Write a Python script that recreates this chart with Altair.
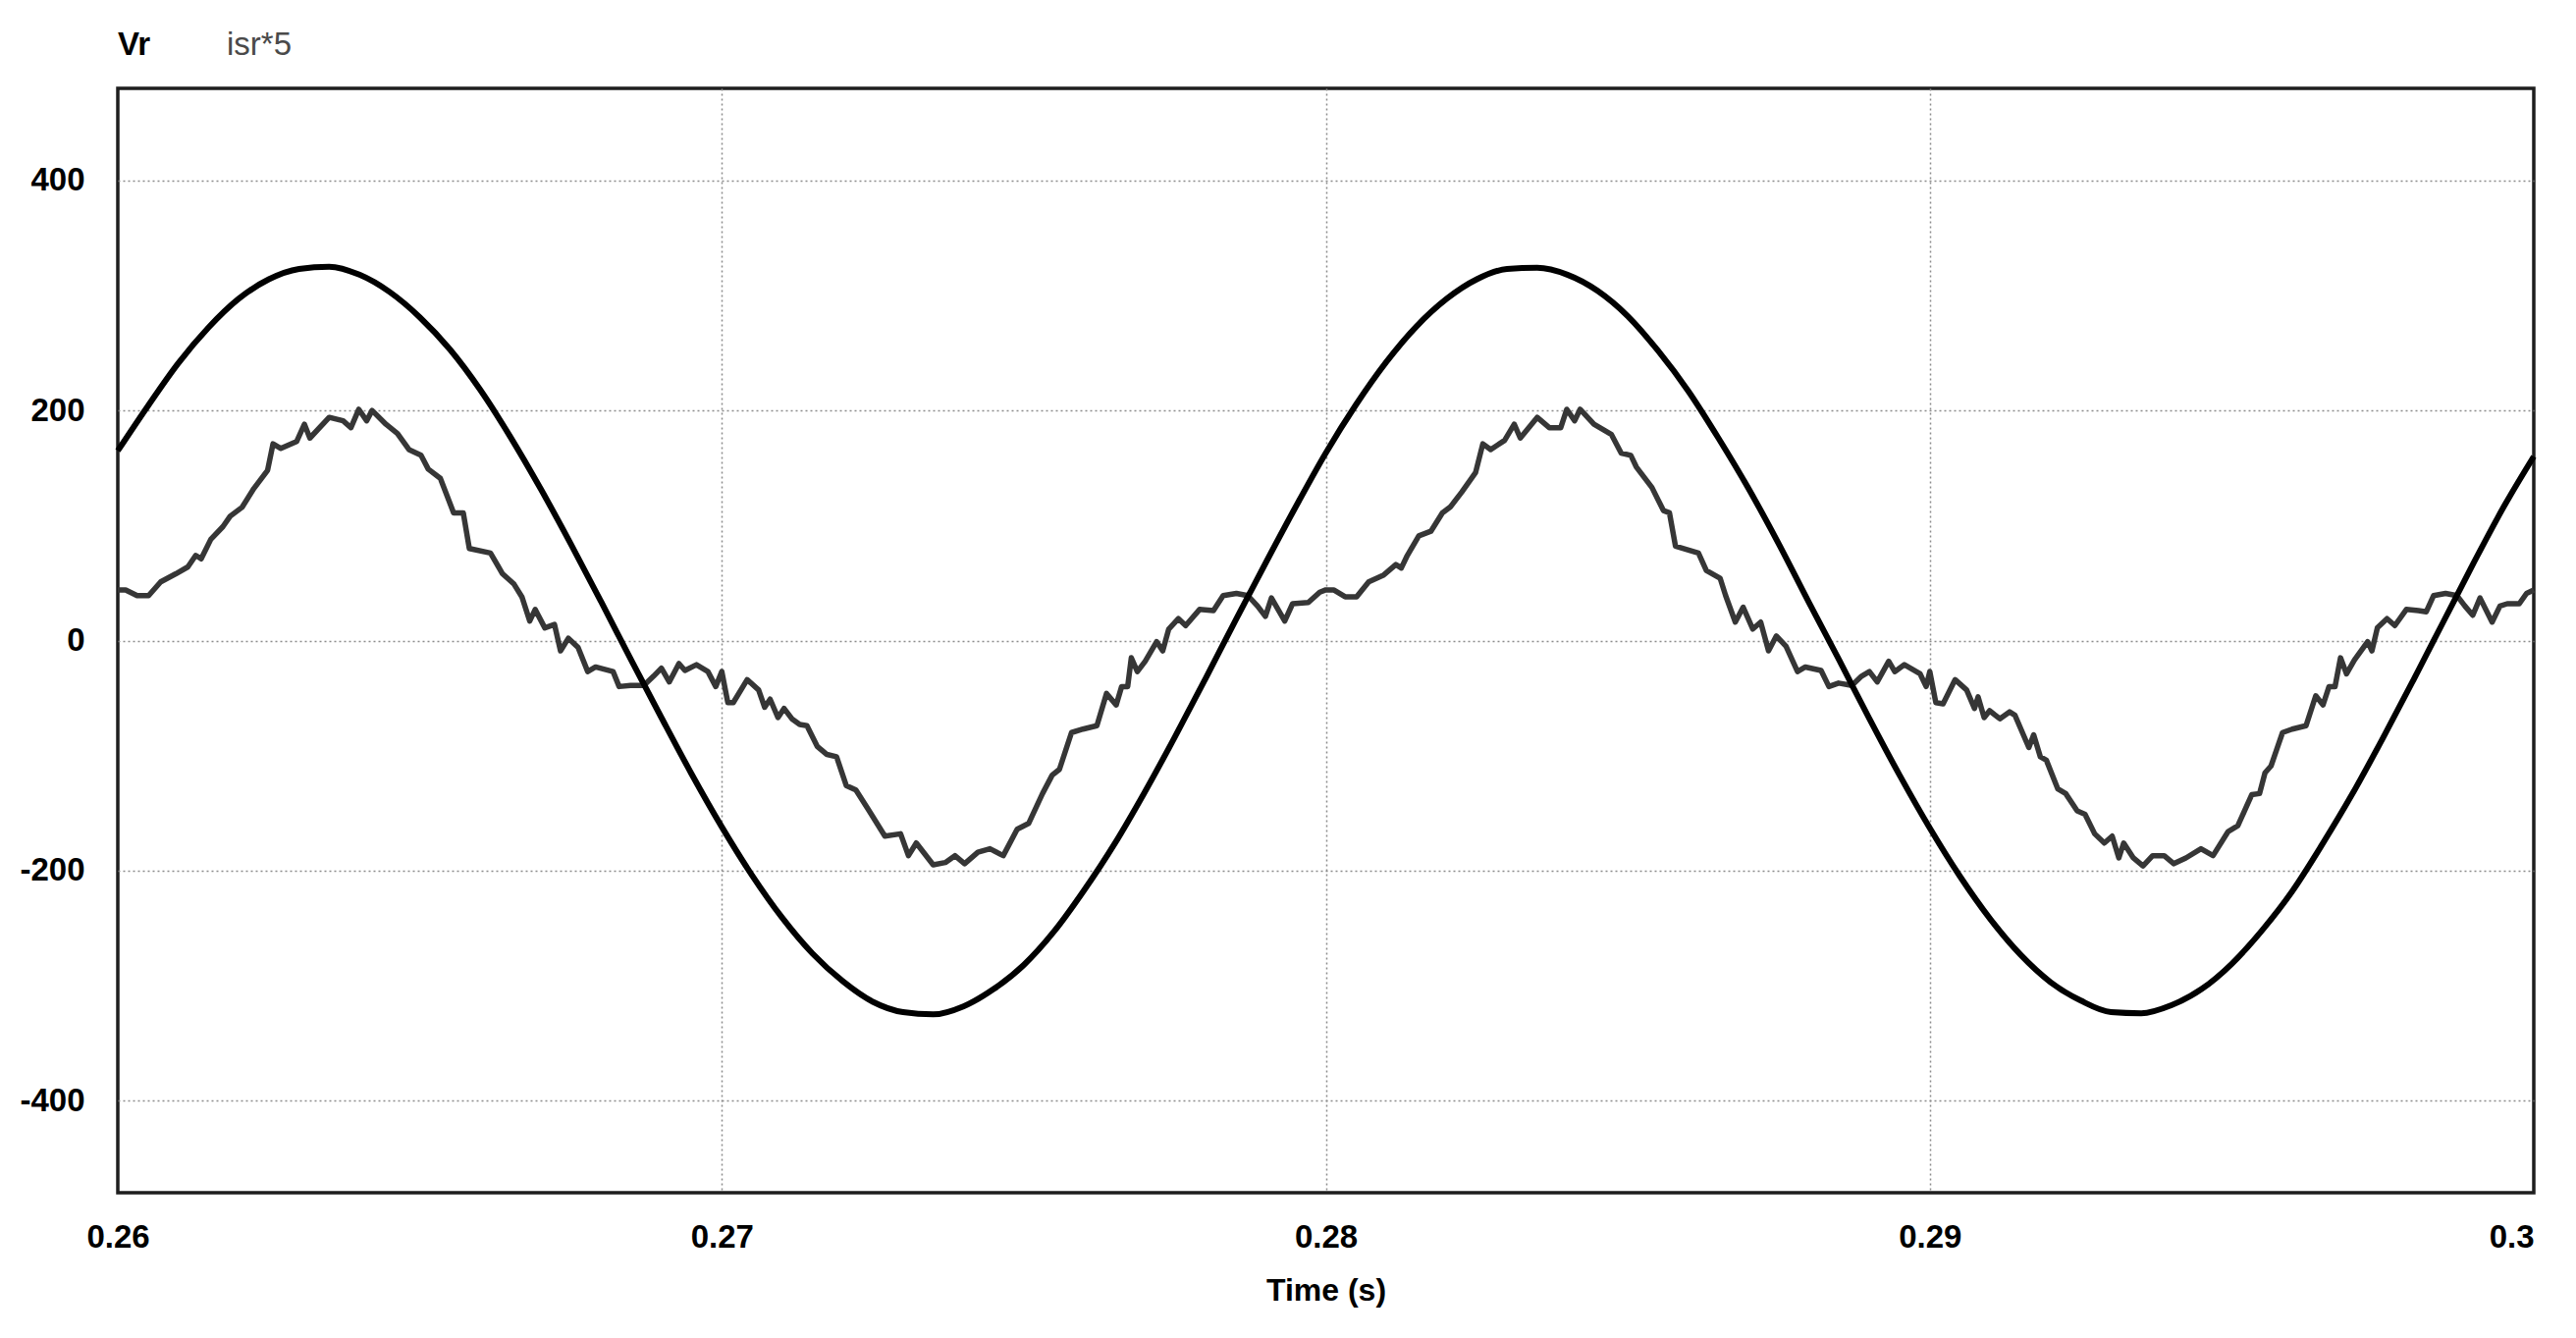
import altair as alt
import pandas as pd

FONT = "Liberation Sans, Arial, sans-serif"

series_names = ["Vr", "isr*5"]
line_colors = ["#000000", "#363636"]
label_colors = ["#000000", "#4a4a4a"]

x_ticks = [0.26, 0.27, 0.28, 0.29, 0.30]
y_ticks = [-400, -200, 0, 200, 400]

vr_time = [0.2600, 0.2605, 0.2610, 0.2615, 0.2620, 0.2625, 0.2630, 0.2635, 0.2640, 0.2645,
           0.2650, 0.2655, 0.2660, 0.2665, 0.2670, 0.2675, 0.2680, 0.2685, 0.2690, 0.2695,
           0.2700, 0.2705, 0.2710, 0.2715, 0.2720, 0.2725, 0.2730, 0.2735, 0.2740, 0.2745,
           0.2750, 0.2755, 0.2760, 0.2765, 0.2770, 0.2775, 0.2780, 0.2785, 0.2790, 0.2795,
           0.2800, 0.2805, 0.2810, 0.2815, 0.2820, 0.2825, 0.2830, 0.2835, 0.2840, 0.2845,
           0.2850, 0.2855, 0.2860, 0.2865, 0.2870, 0.2875, 0.2880, 0.2885, 0.2890, 0.2895,
           0.2900, 0.2905, 0.2910, 0.2915, 0.2920, 0.2925, 0.2930, 0.2935, 0.2940, 0.2945,
           0.2950, 0.2955, 0.2960, 0.2965, 0.2970, 0.2975, 0.2980, 0.2985, 0.2990, 0.2995,
           0.3000]

vr_values = [165, 204, 241, 272, 297, 314, 323, 325, 318, 303, 281, 253, 218, 177, 132, 84, 34, -17, -67, -116,
             -162, -204, -241, -272, -296, -314, -323, -325, -318, -303, -282, -253, -217, -177, -132, -84, -34, 17, 67, 116,
             163, 205, 242, 273, 297, 314, 323, 324, 318, 304, 282, 252, 217, 176, 132, 84, 33, -17, -68, -117,
             -163, -205, -242, -273, -297, -313, -323, -324, -317, -303, -281, -252, -218, -177, -133, -85, -35, 16, 67, 116,
             160]

isr_seg1 = [(0.26000, 44), (0.26013, 44), (0.26032, 39), (0.26051, 39), (0.26071, 51), (0.26096, 58),
            (0.26116, 64), (0.26129, 74), (0.26138, 71), (0.26154, 88), (0.26174, 99), (0.26186, 108),
            (0.26206, 116), (0.26225, 132), (0.26248, 148), (0.26257, 171), (0.26270, 167), (0.26296, 173),
            (0.26309, 188), (0.26318, 176), (0.26350, 194), (0.26373, 191), (0.26386, 185), (0.26399, 201),
            (0.26412, 191), (0.26421, 200), (0.26444, 188), (0.26463, 180), (0.26482, 166), (0.26502, 161),
            (0.26514, 149), (0.26534, 141), (0.26556, 111), (0.26572, 111), (0.26582, 80), (0.26617, 76),
            (0.26637, 58), (0.26656, 49), (0.26669, 38), (0.26682, 17), (0.26691, 27), (0.26707, 11),
            (0.26723, 14), (0.26733, -9), (0.26746, 2), (0.26762, -6), (0.26778, -27), (0.26791, -23),
            (0.26820, -27), (0.26830, -40), (0.26849, -39), (0.26871, -39), (0.26887, -31), (0.26900, -24),
            (0.26913, -36), (0.26929, -20), (0.26939, -26), (0.26958, -21), (0.26977, -27), (0.26990, -40)]

isr_seg2 = [(0.27000, -27), (0.27010, -54), (0.27019, -54), (0.27042, -34), (0.27061, -43), (0.27071, -58),
            (0.27080, -51), (0.27093, -67), (0.27103, -59), (0.27116, -68), (0.27129, -73), (0.27141, -74),
            (0.27158, -92), (0.27174, -99), (0.27190, -101), (0.27206, -126), (0.27222, -130), (0.27244, -148),
            (0.27270, -170), (0.27296, -168), (0.27309, -187), (0.27322, -176), (0.27350, -195), (0.27370, -193),
            (0.27386, -187), (0.27402, -194), (0.27424, -184), (0.27444, -181), (0.27466, -187), (0.27489, -164),
            (0.27508, -159), (0.27531, -133), (0.27547, -117), (0.27559, -112), (0.27579, -80), (0.27598, -77),
            (0.27621, -74), (0.27637, -46), (0.27653, -56), (0.27662, -40), (0.27672, -40), (0.27678, -15),
            (0.27688, -27), (0.27701, -18), (0.27720, -1), (0.27730, -9), (0.27740, 10), (0.27756, 19),
            (0.27768, 13), (0.27791, 27), (0.27814, 26), (0.27830, 39), (0.27852, 41), (0.27871, 39),
            (0.27887, 30), (0.27900, 21), (0.27910, 37), (0.27932, 17), (0.27945, 32), (0.27971, 33),
            (0.27990, 42)]

isr_seg3 = [(0.28000, 44), (0.28013, 44), (0.28032, 38), (0.28051, 38), (0.28071, 51), (0.28096, 57),
            (0.28116, 66), (0.28125, 63), (0.28135, 74), (0.28154, 91), (0.28174, 95), (0.28193, 111),
            (0.28206, 116), (0.28225, 129), (0.28248, 146), (0.28260, 171), (0.28273, 166), (0.28296, 174),
            (0.28312, 188), (0.28322, 176), (0.28350, 194), (0.28370, 185), (0.28389, 185), (0.28399, 201),
            (0.28412, 191), (0.28421, 201), (0.28444, 188), (0.28473, 179), (0.28489, 163), (0.28505, 161),
            (0.28514, 151), (0.28540, 133), (0.28559, 113), (0.28569, 111), (0.28579, 82), (0.28617, 76),
            (0.28630, 61), (0.28653, 54), (0.28662, 39), (0.28678, 16), (0.28691, 29), (0.28707, 10),
            (0.28720, 16), (0.28733, -9), (0.28746, 4), (0.28762, -5), (0.28781, -27), (0.28794, -23),
            (0.28820, -26), (0.28833, -40), (0.28849, -37), (0.28871, -39), (0.28887, -31), (0.28900, -27),
            (0.28913, -36), (0.28932, -18), (0.28942, -27), (0.28958, -21), (0.28984, -29), (0.28994, -40)]

isr_seg4 = [(0.29000, -27), (0.29010, -54), (0.29022, -55), (0.29042, -34), (0.29061, -43), (0.29074, -59),
            (0.29080, -49), (0.29090, -67), (0.29099, -61), (0.29116, -68), (0.29132, -62), (0.29141, -65),
            (0.29164, -93), (0.29172, -82), (0.29183, -101), (0.29193, -104), (0.29212, -129), (0.29225, -133),
            (0.29244, -148), (0.29257, -151), (0.29273, -168), (0.29289, -176), (0.29302, -170), (0.29313, -189),
            (0.29321, -176), (0.29337, -189), (0.29353, -196), (0.29369, -187), (0.29388, -187), (0.29404, -194),
            (0.29424, -189), (0.29449, -181), (0.29469, -187), (0.29494, -166), (0.29510, -161), (0.29533, -134),
            (0.29546, -133), (0.29555, -115), (0.29565, -109), (0.29584, -80), (0.29600, -77), (0.29623, -74),
            (0.29639, -48), (0.29651, -56), (0.29661, -40), (0.29671, -40), (0.29680, -15), (0.29690, -29),
            (0.29703, -17), (0.29725, -1), (0.29732, -9), (0.29741, 11), (0.29757, 19), (0.29770, 13),
            (0.29789, 27), (0.29809, 26), (0.29822, 25), (0.29834, 39), (0.29854, 41), (0.29873, 39),
            (0.29886, 30), (0.29899, 22), (0.29911, 37), (0.29931, 16), (0.29944, 30), (0.29956, 32),
            (0.29976, 32), (0.29988, 41), (0.30000, 44)]

vr_df = pd.DataFrame({"t": vr_time, "v": vr_values})
vr_df["series"] = series_names[0]
isr_df = pd.DataFrame(isr_seg1 + isr_seg2 + isr_seg3 + isr_seg4, columns=["t", "v"])
isr_df["series"] = series_names[1]

x_scale = alt.Scale(domain=[0.26, 0.30], nice=False, zero=False)
y_scale = alt.Scale(domain=[-480, 480], nice=False, zero=False)

x_axis = alt.Axis(
    values=x_ticks,
    title="Time (s)",
    labelExpr="'' + datum.value",
    labelAlign={"condition": {"test": "datum.value > 0.2995", "value": "right"}, "value": "center"},
    gridOpacity={"condition": {"test": "datum.value < 0.2605 || datum.value > 0.2995", "value": 0}, "value": 1},
    labelPadding=29,
    titlePadding=22,
)
y_axis = alt.Axis(
    values=y_ticks,
    title=None,
    labelExpr="'' + datum.value",
    labelPadding=34,
)

color_scale = alt.Scale(domain=series_names, range=line_colors)

isr_line = alt.Chart(isr_df).mark_line(strokeWidth=5.5, strokeJoin="round").encode(
    x=alt.X("t:Q", scale=x_scale, axis=x_axis),
    y=alt.Y("v:Q", scale=y_scale, axis=y_axis),
    color=alt.Color("series:N", scale=color_scale, legend=None),
)

vr_line = alt.Chart(vr_df).mark_line(strokeWidth=6, interpolate="monotone").encode(
    x=alt.X("t:Q", scale=x_scale, axis=x_axis),
    y=alt.Y("v:Q", scale=y_scale, axis=y_axis),
    color=alt.Color("series:N", scale=color_scale, legend=None),
)

name1 = alt.Chart(pd.DataFrame({"name": [series_names[0]]})).mark_text(
    align="left", baseline="alphabetic", fontSize=33, fontWeight="bold", font=FONT, color=label_colors[0]
).encode(x=alt.value(0), y=alt.value(-34), text="name:N")

name2 = alt.Chart(pd.DataFrame({"name": [series_names[1]]})).mark_text(
    align="left", baseline="alphabetic", fontSize=33, font=FONT, color=label_colors[1]
).encode(x=alt.value(111), y=alt.value(-34), text="name:N")

chart = alt.layer(isr_line, vr_line, name1, name2).properties(
    width=2461,
    height=1125,
    autosize=alt.AutoSizeParams(type="none"),
    padding={"left": 112, "top": 82, "right": 30, "bottom": 140},
    background="white",
).configure_view(
    stroke="#1e1e1e", strokeWidth=3.5
).configure_axis(
    domain=False,
    ticks=False,
    grid=True,
    gridColor="#8c8c8c",
    gridDash=[2, 3],
    gridWidth=1.5,
    labelFont=FONT,
    labelFontSize=33,
    labelFontWeight="bold",
    labelColor="#000000",
    titleFont=FONT,
    titleFontSize=32,
    titleFontWeight="bold",
    titleColor="#000000",
)

chart.save("out.html", embed_options={"renderer": "svg", "actions": False})
